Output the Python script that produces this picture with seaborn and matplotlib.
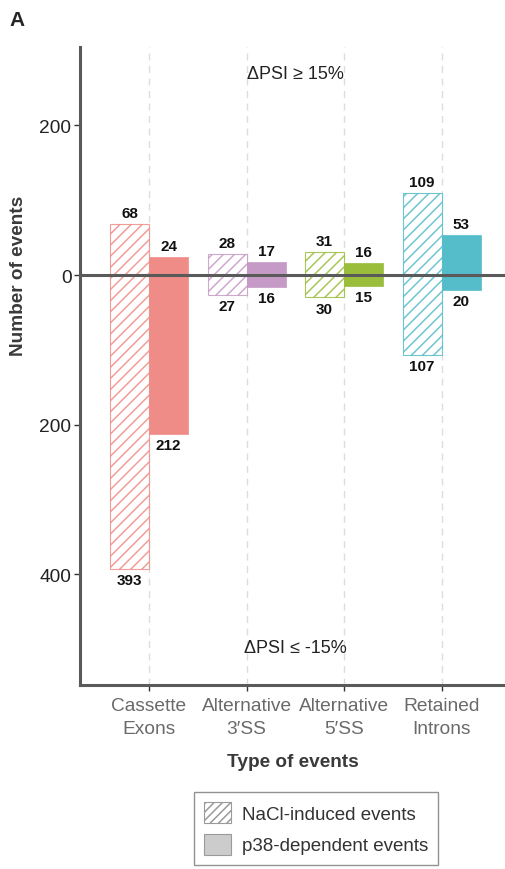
import matplotlib
matplotlib.use("Agg")
import matplotlib.pyplot as plt
import matplotlib.patches as mpatches
from matplotlib.ticker import FuncFormatter
import seaborn as sns
import pandas as pd

# Splicing event types
categories = ["Cassette\nExons", "Alternative\n3\u2032SS", "Alternative\n5\u2032SS", "Retained\nIntrons"]
colors = ["#F08C87", "#C69AC6", "#9ABD3B", "#55BCC9"]

# Events with dPSI >= 15% (up) and <= -15% (down)
nacl_up = [68, 28, 31, 109]
nacl_down = [393, 27, 30, 107]
p38_up = [24, 17, 16, 53]
p38_down = [212, 16, 15, 20]

series = ["NaCl-induced events", "p38-dependent events"]
yticks = [200, 0, -200, -400]

rows = []
for i, cat in enumerate(categories):
    rows.append({"type": cat, "series": series[0], "up": nacl_up[i], "down": -nacl_down[i]})
    rows.append({"type": cat, "series": series[1], "up": p38_up[i], "down": -p38_down[i]})
df = pd.DataFrame(rows)

sns.set_style("white")
plt.rcParams["font.family"] = ["Liberation Sans", "DejaVu Sans"]
plt.rcParams["hatch.linewidth"] = 1.1

fig = plt.figure(figsize=(5.05, 8.7), dpi=100)
ax = fig.add_axes([0.158, 0.2115, 0.842, 0.7335])

# vertical dashed guides at each category
for i in range(len(categories)):
    ax.axvline(i, color="#DDDDDD", lw=1.0, ls=(0, (5, 4)), zorder=0)

for col in ["up", "down"]:
    sns.barplot(data=df, x="type", y=col, hue="series", hue_order=series,
                order=categories, dodge=True, width=0.8, ax=ax,
                legend=False, errorbar=None, zorder=2)

# colour bars per category; hatch the NaCl series
for cont_i, cont in enumerate(ax.containers):
    hatched = (cont_i % 2 == 0)
    for j, bar in enumerate(cont):
        c = colors[j]
        if hatched:
            bar.set_facecolor("white")
            bar.set_edgecolor(c)
            bar.set_hatch("///")
            bar.set_linewidth(0.8)
            bar.set_alpha(0.85)
        else:
            bar.set_facecolor(c)
            bar.set_edgecolor(c)
            bar.set_linewidth(0.5)

# value labels
lab_kw = dict(ha="center", fontsize=11, fontweight="bold", color="#111111")
for j in range(len(categories)):
    for off, up, dn in [(-0.2, nacl_up[j], nacl_down[j]), (0.2, p38_up[j], p38_down[j])]:
        ax.annotate(str(up), (j + off, up), xytext=(0, 3), textcoords="offset points",
                    va="bottom", **lab_kw)
        ax.annotate(str(dn), (j + off, -dn), xytext=(0, -3), textcoords="offset points",
                    va="top", **lab_kw)

ax.axhline(0, color="#5A5A5A", lw=2.2, zorder=3)

ax.set_xlim(-0.71, 3.65)
ax.set_ylim(-548, 305)
ax.set_yticks(yticks)
ax.yaxis.set_major_formatter(FuncFormatter(lambda v, p: f"{abs(int(v))}"))

for s in ["top", "right"]:
    ax.spines[s].set_visible(False)
for s in ["left", "bottom"]:
    ax.spines[s].set_color("#5A5A5A")
    ax.spines[s].set_linewidth(2.2)

ax.tick_params(axis="y", left=True, length=4, width=1, color="#333333",
               labelsize=13.8, labelcolor="#222222", pad=2)
ax.tick_params(axis="x", bottom=True, length=4, width=1, color="#333333",
               labelsize=13.8, labelcolor="#6A6A6A", pad=5)
for t in ax.get_xticklabels():
    t.set_linespacing(1.4)

ax.text(1.5, 270, "\u0394PSI \u2265 15%", ha="center", va="center", fontsize=13, color="#222222")
ax.text(1.5, -498, "\u0394PSI \u2264 -15%", ha="center", va="center", fontsize=13, color="#222222")

ax.set_xlabel("Type of events", fontsize=13.7, fontweight="bold", color="#3A3A3A", labelpad=12)
ax.set_ylabel("Number of events", fontsize=13.7, fontweight="bold", color="#3A3A3A")
ax.yaxis.set_label_coords(-0.125, (0 + 548) / (305 + 548))

fig.text(0.018, 0.977, "A", fontsize=15, fontweight="bold", va="center", ha="left")

handles = [
    mpatches.Patch(facecolor="white", edgecolor="#9A9A9A", hatch="////", lw=0.8, label=series[0]),
    mpatches.Patch(facecolor="#CCCCCC", edgecolor="#9A9A9A", lw=0.8, label=series[1]),
]
leg = fig.legend(handles=handles, loc="center", bbox_to_anchor=(0.626, 0.0465),
                 frameon=True, fancybox=False, fontsize=13.5, handlelength=1.45,
                 handleheight=1.35, handletextpad=0.55, labelspacing=0.55,
                 borderpad=0.55, borderaxespad=0, edgecolor="#777777")
leg.get_frame().set_linewidth(1.0)
for t in leg.get_texts():
    t.set_color("#333333")

fig.savefig("out.png", dpi=100)
